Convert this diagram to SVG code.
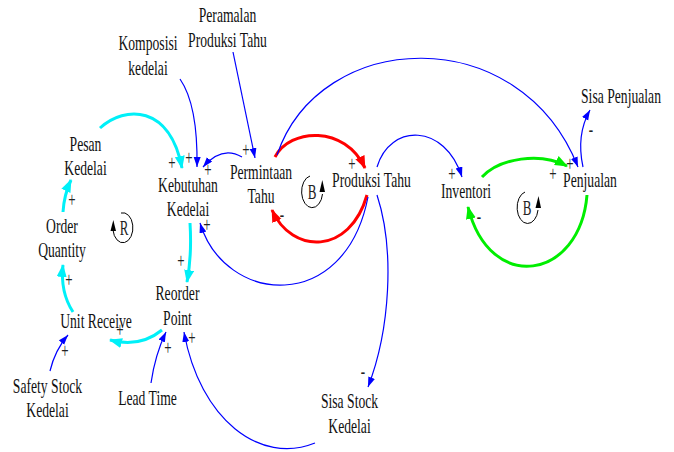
<svg xmlns="http://www.w3.org/2000/svg" width="674" height="452" viewBox="0 0 674 452">
<style>
.t{font-family:"Liberation Serif","Times New Roman",serif;font-size:21px;text-anchor:middle;fill:#111}
.s{font-family:"Liberation Serif","Times New Roman",serif;font-size:20px;text-anchor:middle;fill:#222}
.b{fill:none;stroke:#0000ff;stroke-width:1.2}
.c{fill:none;stroke:#00f0f8;stroke-width:3}
.r{fill:none;stroke:#ff0000;stroke-width:3}
.g{fill:none;stroke:#00ee00;stroke-width:3}
.loop{fill:none;stroke:#000;stroke-width:1}
</style>
<defs>
<marker id="mb" markerUnits="userSpaceOnUse" markerWidth="11" markerHeight="8" refX="10" refY="3.5" orient="auto"><path d="M0,0 L10,3.5 L0,7 z" fill="#0000ff"/></marker>
<marker id="mc" markerUnits="userSpaceOnUse" markerWidth="14" markerHeight="11" refX="12" refY="5" orient="auto"><path d="M0,0 L13,5 L0,10 z" fill="#00f0f8"/></marker>
<marker id="mr" markerUnits="userSpaceOnUse" markerWidth="14" markerHeight="11" refX="12" refY="5" orient="auto"><path d="M0,0 L13,5 L0,10 z" fill="#ff0000"/></marker>
<marker id="mg" markerUnits="userSpaceOnUse" markerWidth="14" markerHeight="11" refX="12" refY="5" orient="auto"><path d="M0,0 L13,5 L0,10 z" fill="#00ee00"/></marker>
</defs>

<g id="connectors">
<path class="c" d="M100,128 C125,105 170,105 182,168" marker-end="url(#mc)"/>
<path class="c" d="M190,223 Q192,255 187,282" marker-end="url(#mc)"/>
<path class="c" d="M162,330 Q140,348 110,340" marker-end="url(#mc)"/>
<path class="c" d="M73,312 Q60,292 63,265" marker-end="url(#mc)"/>
<path class="c" d="M63,212 Q64,195 71,180" marker-end="url(#mc)"/>
<path class="b" d="M180,79 Q198,105 197,167" marker-end="url(#mb)"/>
<path class="b" d="M242,157 Q222,145 203,167" marker-end="url(#mb)"/>
<path class="b" d="M233,52 Q244,105 255,158" marker-end="url(#mb)"/>
<path class="r" d="M275,157 C290,128 345,125 365,168" marker-end="url(#mr)"/>
<path class="r" d="M367,195 C350,255 292,255 272,210" marker-end="url(#mr)"/>
<path class="b" d="M368,197 C345,315 225,305 200,223" marker-end="url(#mb)"/>
<path class="b" d="M377,167 C390,123 445,123 462,177" marker-end="url(#mb)"/>
<path class="b" d="M277,155 C320,28 520,20 578,167" marker-end="url(#mb)"/>
<path class="g" d="M482,177 C500,158 540,152 567,166" marker-end="url(#mg)"/>
<path class="g" d="M587,195 C580,280 490,295 468,207" marker-end="url(#mg)"/>
<path class="b" d="M583,167 Q576,135 590,110" marker-end="url(#mb)"/>
<path class="b" d="M377,195 C395,250 390,330 368,387" marker-end="url(#mb)"/>
<path class="b" d="M315,443 C260,465 200,420 184,332" marker-end="url(#mb)"/>
<path class="b" d="M151,383 Q155,355 166,332" marker-end="url(#mb)"/>
<path class="b" d="M50,371 Q55,350 68,335" marker-end="url(#mb)"/>
</g>

<g id="polarities">
<text class="s" transform="translate(72,207) scale(0.65,1)">+</text>
<text class="s" transform="translate(69,287) scale(0.65,1)">+</text>
<text class="s" transform="translate(120,337) scale(0.65,1)">+</text>
<text class="s" transform="translate(181,268) scale(0.65,1)">+</text>
<text class="s" transform="translate(172,170) scale(0.65,1)">+</text>
<text class="s" transform="translate(189,165) scale(0.65,1)">+</text>
<text class="s" transform="translate(208,177) scale(0.65,1)">+</text>
<text class="s" transform="translate(207,232) scale(0.65,1)">+</text>
<text class="s" transform="translate(246,157) scale(0.65,1)">+</text>
<text class="s" transform="translate(352,171) scale(0.65,1)">+</text>
<text class="s" transform="translate(452,181) scale(0.65,1)">+</text>
<text class="s" transform="translate(570,171) scale(0.65,1)">+</text>
<text class="s" transform="translate(553,181) scale(0.65,1)">+</text>
<text class="s" transform="translate(168,355) scale(0.65,1)">+</text>
<text class="s" transform="translate(192,345) scale(0.65,1)">+</text>
<text class="s" transform="translate(65,358) scale(0.65,1)">+</text>
<text class="s" transform="translate(282,221) scale(0.65,1)">-</text>
<text class="s" transform="translate(479,223) scale(0.65,1)">-</text>
<text class="s" transform="translate(591,136) scale(0.65,1)">-</text>
<text class="s" transform="translate(363,378) scale(0.65,1)">-</text>
</g>

<g id="loop-r">
<path class="loop" d="M113,230 A10,15 0 1 0 121,213"/>
<polygon points="110.5,231 116,231 113.3,220" fill="#000"/>
<text class="s" transform="translate(124,235) scale(0.65,1)">R</text>
</g>
<g id="loop-b1">
<path class="loop" d="M322.5,194 A10.5,16 0 1 1 310,176"/>
<polygon points="319.5,192 325,192 322.3,180" fill="#000"/>
<text class="s" transform="translate(312,199) scale(0.65,1)">B</text>
</g>
<g id="loop-b2">
<path class="loop" d="M538,210 A10.5,16 0 1 1 525,192"/>
<polygon points="535.5,208 541,208 538.5,196" fill="#000"/>
<text class="s" transform="translate(527,215) scale(0.65,1)">B</text>
</g>

<g id="n-peramalan" transform="translate(227.5,0) scale(0.65,1)"><text class="t" x="0" y="22">Peramalan</text><text class="t" x="0" y="47">Produksi Tahu</text></g>
<g id="n-komposisi" transform="translate(148,0) scale(0.65,1)"><text class="t" x="0" y="50">Komposisi</text><text class="t" x="0" y="75">kedelai</text></g>
<g id="n-pesan" transform="translate(85.5,0) scale(0.65,1)"><text class="t" x="0" y="151">Pesan</text><text class="t" x="0" y="175">Kedelai</text></g>
<g id="n-kebutuhan" transform="translate(188,0) scale(0.65,1)"><text class="t" x="0" y="192">Kebutuhan</text><text class="t" x="0" y="216">Kedelai</text></g>
<g id="n-permintaan" transform="translate(261,0) scale(0.65,1)"><text class="t" x="0" y="179">Permintaan</text><text class="t" x="0" y="203">Tahu</text></g>
<g id="n-produksi" transform="translate(371.5,0) scale(0.65,1)"><text class="t" x="0" y="187">Produksi Tahu</text></g>
<g id="n-inventori" transform="translate(466,0) scale(0.65,1)"><text class="t" x="0" y="198">Inventori</text></g>
<g id="n-penjualan" transform="translate(590,0) scale(0.65,1)"><text class="t" x="0" y="187">Penjualan</text></g>
<g id="n-sisapenjualan" transform="translate(621,0) scale(0.65,1)"><text class="t" x="0" y="103">Sisa Penjualan</text></g>
<g id="n-order" transform="translate(62,0) scale(0.65,1)"><text class="t" x="0" y="233">Order</text><text class="t" x="0" y="257">Quantity</text></g>
<g id="n-reorder" transform="translate(177.5,0) scale(0.65,1)"><text class="t" x="0" y="300">Reorder</text><text class="t" x="0" y="325">Point</text></g>
<g id="n-unit" transform="translate(96,0) scale(0.65,1)"><text class="t" x="0" y="328">Unit Receive</text></g>
<g id="n-safety" transform="translate(47.5,0) scale(0.65,1)"><text class="t" x="0" y="393">Safety Stock</text><text class="t" x="0" y="417">Kedelai</text></g>
<g id="n-lead" transform="translate(147.5,0) scale(0.65,1)"><text class="t" x="0" y="405">Lead Time</text></g>
<g id="n-sisastock" transform="translate(349.5,0) scale(0.65,1)"><text class="t" x="0" y="408">Sisa Stock</text><text class="t" x="0" y="433">Kedelai</text></g>
</svg>
